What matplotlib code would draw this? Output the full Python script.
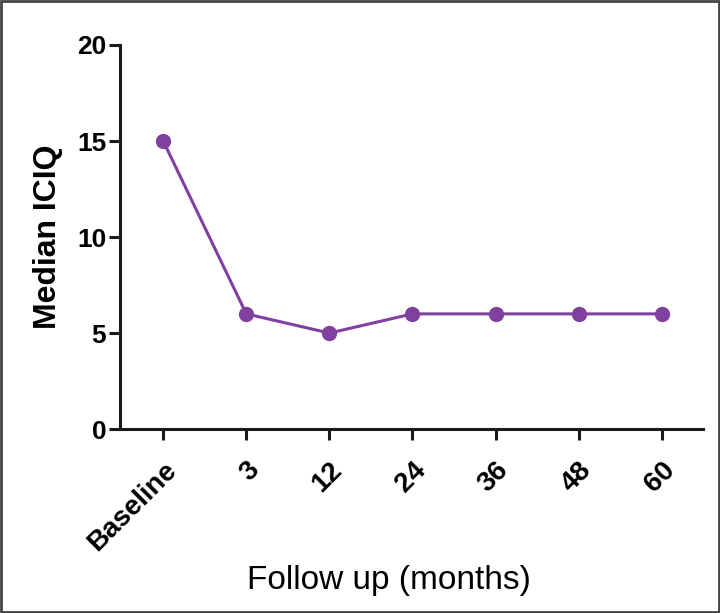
import matplotlib.pyplot as plt
import matplotlib.transforms as mtransforms
from matplotlib.patches import Rectangle

# data
timepoints = ["Baseline", "3", "12", "24", "36", "48", "60"]
median_iciq = [15, 6, 5, 6, 6, 6, 6]
y_ticks = [0, 5, 10, 15, 20]

plt.rcParams["font.family"] = ["Liberation Sans", "DejaVu Sans"]

fig = plt.figure(figsize=(7.2, 6.13), dpi=100)
ax = fig.add_axes([0.1667, 0.30, 0.81, 0.6266])

x = list(range(len(timepoints)))
ax.plot(x, median_iciq, color="#8040a0", linewidth=2.2,
        marker="o", markersize=11, markeredgewidth=0)

ax.set_xlim(-0.52, 6.5)
ax.set_ylim(0, 20)
ax.set_xticks(x)
ax.set_xticklabels(timepoints, rotation=45, ha="right", rotation_mode="anchor",
                   fontsize=20, fontweight="bold")
ax.set_yticks(y_ticks)
ax.set_yticklabels([str(v) for v in y_ticks], fontsize=19, fontweight="bold")

# nudge rotated labels a little left
shift = mtransforms.ScaledTranslation(-6 / 100, 0, fig.dpi_scale_trans)
for lbl in ax.get_xticklabels():
    lbl.set_transform(lbl.get_transform() + shift)

for s in ["top", "right"]:
    ax.spines[s].set_visible(False)
for s in ["left", "bottom"]:
    ax.spines[s].set_linewidth(2.2)
    ax.spines[s].set_color("#1a1a1a")
ax.tick_params(axis="both", direction="out", length=8, width=2.2, color="#1a1a1a")
ax.tick_params(axis="x", pad=12)
ax.tick_params(axis="y", pad=2)

ax.set_ylabel("Median ICIQ", fontsize=23, fontweight="bold", labelpad=10)
ax.set_xlabel("Follow up (months)", fontsize=24, va="center")
ax.xaxis.set_label_coords(0.461, -0.393)

# outer frame
fig.patches.append(Rectangle((0.002, 0.002), 0.996, 0.996, transform=fig.transFigure,
                             fill=False, edgecolor="#444444", linewidth=2))

fig.savefig("out.png", dpi=100)
